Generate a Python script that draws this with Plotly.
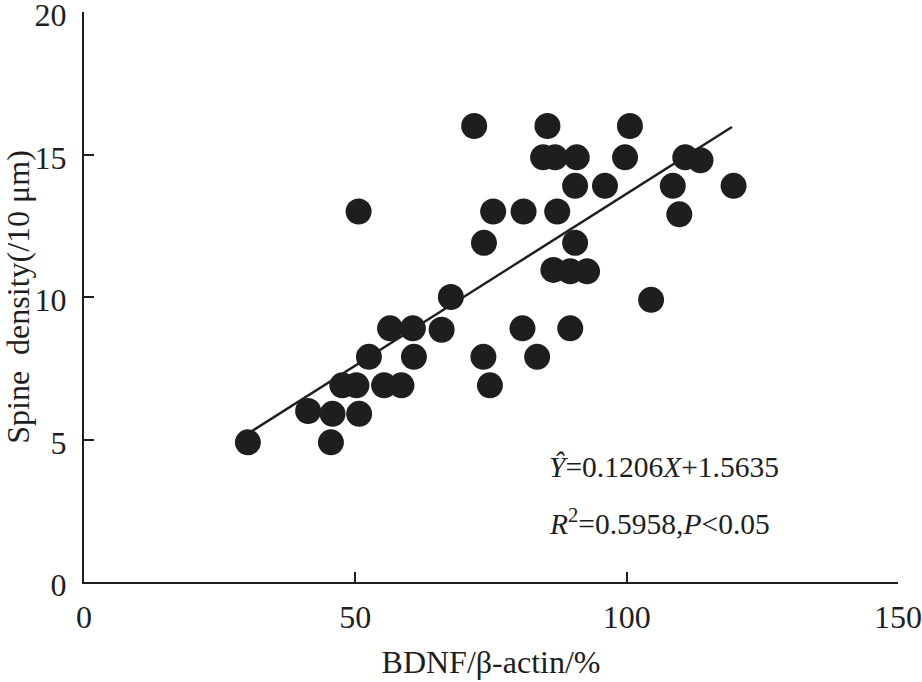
import plotly.graph_objects as go

# BDNF/β-actin (%) vs spine density (/10 μm)
bdnf = [30.2, 41.3, 45.5, 45.8, 50.7, 47.6, 50.2, 55.3, 58.5, 52.5, 60.8,
        56.4, 60.6, 65.9, 67.6, 50.6, 71.9, 75.4, 81.0, 87.2, 73.7, 73.6,
        74.8, 80.8, 83.5, 85.4, 84.6, 86.8, 90.8, 99.7, 110.8, 113.6, 90.5,
        96.0, 108.5, 119.7, 109.7, 90.5, 86.5, 89.6, 92.7, 104.5, 89.6, 100.6]
spine = [4.9, 6.0, 4.9, 5.9, 5.9, 6.9, 6.9, 6.9, 6.9, 7.9, 7.9,
         8.9, 8.9, 8.85, 10.0, 13.0, 16.0, 13.0, 13.0, 13.0, 11.9, 7.9,
         6.9, 8.9, 7.9, 16.0, 14.9, 14.9, 14.9, 14.9, 14.9, 14.8, 13.9,
         13.9, 13.9, 13.9, 12.9, 11.9, 10.95, 10.9, 10.9, 9.9, 8.9, 16.0]

slope = 0.1206
intercept = 1.5635
line_x = [min(bdnf) + 0.7, max(bdnf) - 0.3]
line_y = [slope * v + intercept for v in line_x]

x_ticks = [0, 50, 100, 150]
y_ticks = [0, 5, 10, 15, 20]

FONT = "Liberation Serif, Times New Roman, serif"
INK = "#1e1e1e"

fig = go.Figure()
fig.add_trace(go.Scatter(
    x=bdnf, y=spine, mode="markers",
    marker=dict(size=26, color=INK, line=dict(width=0)),
    showlegend=False, hoverinfo="x+y"))
fig.add_trace(go.Scatter(
    x=line_x, y=line_y, mode="lines",
    line=dict(color=INK, width=2.5),
    showlegend=False, hoverinfo="skip"))

axis_common = dict(
    showgrid=False, zeroline=False, showline=True, linecolor=INK, linewidth=2,
    ticks="inside", ticklen=10, tickwidth=2, tickcolor=INK, automargin=False,
    ticklabeloverflow="allow",
    tickfont=dict(family=FONT, size=32, color=INK), mirror=False,
)

fig.update_layout(
    width=922, height=682,
    margin=dict(l=84, r=24, t=12, b=100),
    plot_bgcolor="white", paper_bgcolor="white",
    font=dict(family=FONT, color=INK),
    xaxis=dict(range=[0, 150], tickvals=x_ticks, ticktext=[str(v) for v in x_ticks],
               title=dict(text="BDNF/β-actin/%", font=dict(family=FONT, size=32, color=INK),
                          standoff=16),
               ticklabelstandoff=6, **axis_common),
    yaxis=dict(range=[0, 20], tickvals=y_ticks, ticktext=[str(v) for v in y_ticks],
               title=dict(text="Spine  density(/10 μm)", font=dict(family=FONT, size=32, color=INK),
                          standoff=9),
               ticklabelstandoff=9, ticklabelshift=3, **axis_common),
    annotations=[
        dict(x=85.3, y=4.05, xref="x", yref="y", xanchor="left", yanchor="middle",
             text="<i>Ŷ</i>=0.1206<i>X</i>+1.5635", showarrow=False,
             font=dict(family=FONT, size=29.5, color=INK)),
        dict(x=85.3, y=2.12, xref="x", yref="y", xanchor="left", yanchor="middle",
             text="<i>R</i><sup>2</sup>=0.5958,<i>P</i><0.05", showarrow=False,
             font=dict(family=FONT, size=29.5, color=INK)),
    ],
)

fig.write_html("out.html", config={"displayModeBar": False},
               post_script="document.body.style.margin='0';")
